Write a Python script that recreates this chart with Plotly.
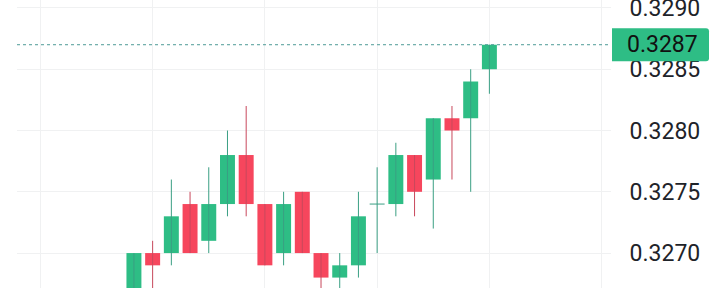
import plotly.graph_objects as go
import pandas as pd

times = pd.date_range("2024-01-01 09:55", periods=20, freq="5min")
opens  = [0.3266, 0.3270, 0.3270, 0.3274, 0.3271, 0.3274, 0.3278, 0.3274, 0.3270, 0.3275,
          0.3270, 0.3268, 0.3269, 0.3274, 0.3274, 0.3278, 0.3276, 0.3281, 0.3281, 0.3285]
highs  = [0.3270, 0.3271, 0.3276, 0.3275, 0.3277, 0.3280, 0.3282, 0.3274, 0.3275, 0.3275,
          0.3270, 0.3270, 0.3275, 0.3277, 0.3279, 0.3278, 0.3281, 0.3282, 0.3285, 0.3287]
lows   = [0.3265, 0.3266, 0.3269, 0.3270, 0.3270, 0.3273, 0.3273, 0.3269, 0.3269, 0.3270,
          0.3266, 0.3266, 0.3268, 0.3270, 0.3273, 0.3273, 0.3272, 0.3276, 0.3275, 0.3283]
closes = [0.3270, 0.3269, 0.3273, 0.3270, 0.3274, 0.3278, 0.3274, 0.3269, 0.3274, 0.3270,
          0.3268, 0.3269, 0.3273, 0.3274, 0.3278, 0.3275, 0.3281, 0.3280, 0.3284, 0.3287]
last_price = 0.3287
y_ticks = [0.3270, 0.3275, 0.3280, 0.3285, 0.3290]

GREEN = "#2ebd85"
RED = "#f6465d"
GREEN_WICK = "#3a9f83"
RED_WICK = "#c8485c"
FONT = "Roboto"

interval = pd.Timedelta(minutes=5)
body_w = 0.8 * interval
body_w_ms = body_w.total_seconds() * 1000

# direction: up if close > open, or equal and close >= previous close
up = []
for i, (o, c) in enumerate(zip(opens, closes)):
    if c > o:
        up.append(True)
    elif c < o:
        up.append(False)
    else:
        up.append(i == 0 or c >= closes[i - 1])

fig = go.Figure()

# wicks (and doji ticks)
for flag, wcol in ((True, GREEN_WICK), (False, RED_WICK)):
    wx, wy = [], []
    for t, o, h, l, c, u in zip(times, opens, highs, lows, closes, up):
        if u != flag:
            continue
        wx += [t, t, None]
        wy += [l, h, None]
        if o == c:
            wx += [t - body_w / 2, t + body_w / 2, None]
            wy += [o, c, None]
    fig.add_trace(go.Scatter(x=wx, y=wy, mode="lines", line=dict(color=wcol, width=1),
                             hoverinfo="skip", showlegend=False))

# bodies
fig.add_trace(go.Bar(
    x=times,
    y=[abs(c - o) for o, c in zip(opens, closes)],
    base=[min(o, c) for o, c in zip(opens, closes)],
    width=body_w_ms,
    marker=dict(color=[GREEN if u else RED for u in up], line=dict(width=0)),
    hoverinfo="skip", showlegend=False,
))

x0 = pd.Timestamp("2024-01-01 09:23:45")
x1 = pd.Timestamp("2024-01-01 12:02:30")

fig.update_layout(
    width=720, height=288,
    margin=dict(l=17, r=109, t=0, b=0, autoexpand=False),
    paper_bgcolor="white", plot_bgcolor="white",
    showlegend=False,
    font=dict(family=FONT, color="#1e2329"),
    xaxis=dict(
        range=[x0, x1], automargin=False,
        showticklabels=False, showgrid=True, gridcolor="#f0f1f2", gridwidth=1,
        dtick=30 * 60 * 1000, tick0="2024-01-01 09:30", zeroline=False, showline=False,
    ),
    yaxis=dict(
        side="right", range=[0.326715, 0.329065], automargin=False,
        tickvals=y_ticks, tickformat=".4f",
        showgrid=True, gridcolor="#f0f1f2", gridwidth=1,
        zeroline=False, showline=False,
        ticks="outside", ticklen=13, tickcolor="rgba(0,0,0,0)",
        ticklabeloverflow="allow",
        tickfont=dict(family=FONT, size=23, color="#1e2329"),
    ),
    shapes=[
        dict(type="line", xref="paper", yref="y", x0=0, x1=1, y0=last_price, y1=last_price,
             line=dict(color="#4e9a96", width=1, dash="dot"), layer="above"),
        dict(type="path", xref="paper", yref="y", xsizemode="pixel", ysizemode="pixel",
             xanchor=1, yanchor=last_price,
             path="M 1 -16.5 L 95 -16.5 Q 98 -16.5 98 -13.5 L 98 13.5 Q 98 16.5 95 16.5 L 1 16.5 Z",
             fillcolor=GREEN, line=dict(width=0), layer="above"),
    ],
    annotations=[
        dict(xref="paper", yref="y", x=1, y=last_price, xanchor="left", yanchor="middle",
             xshift=14, text=f"{last_price:.4f}", showarrow=False,
             font=dict(family=FONT, size=23, color="#111111")),
    ],
)

fig.write_html("out.html")
